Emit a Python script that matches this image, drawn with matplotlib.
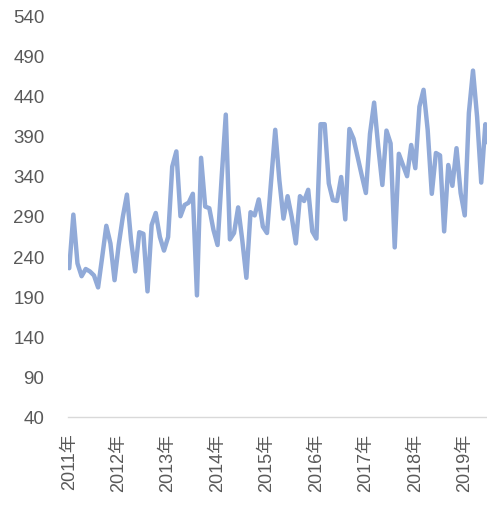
import numpy as np
import matplotlib
matplotlib.use("Agg")
import matplotlib.pyplot as plt

plt.rcParams['font.family'] = ['Liberation Sans', 'Noto Sans CJK SC', 'DejaVu Sans']

# monthly values, Jan 2011 onwards
values = [226, 293, 232, 216, 225, 222, 217, 202, 240, 279, 257, 211,
          255, 290, 318, 261, 222, 271, 269, 197, 280, 295, 265, 248,
          265, 353, 372, 291, 305, 308, 319, 192, 364, 303, 301, 274,
          255, 340, 418, 262, 270, 302, 261, 214, 296, 292, 312, 278,
          270, 335, 399, 336, 288, 316, 290, 257, 316, 310, 324, 272,
          263, 406, 406, 332, 311, 310, 340, 287, 400, 388, 365, 342,
          320, 394, 433, 378, 330, 398, 382, 252, 369, 355, 341, 380,
          351, 428, 449, 399, 319, 370, 367, 272, 355, 329, 376, 320,
          292, 420, 473, 415, 333, 406, 370]
years = ['2011年', '2012年', '2013年', '2014年', '2015年',
         '2016年', '2017年', '2018年', '2019年']
yticks = [40, 90, 140, 190, 240, 290, 340, 390, 440, 490, 540]

fig = plt.figure(figsize=(4.87, 5.08), dpi=100)
ax = fig.add_axes([68 / 487, 91 / 508, 419 / 487, 400 / 508])

x = np.arange(len(values))
ax.plot(x, values, color='#91AAD8', linewidth=3.2, solid_joinstyle='round',
        solid_capstyle='round', clip_on=True)

ax.set_ylim(40, 540)
ax.set_xlim(-0.3, 101.4)
ax.set_yticks(yticks)
ax.set_yticklabels([str(v) for v in yticks], fontsize=13.5, color='#595959')
ax.set_xticks(np.arange(len(years)) * 12)
ax.set_xticklabels(years, rotation=90, fontsize=13, color='#595959')

ax.tick_params(axis='y', length=0, pad=17)
ax.tick_params(axis='x', length=0, pad=12)

for side in ['top', 'right', 'left']:
    ax.spines[side].set_visible(False)
ax.spines['bottom'].set_color('#D9D9D9')
ax.spines['bottom'].set_linewidth(1.0)

fig.savefig('out.png', dpi=100)
